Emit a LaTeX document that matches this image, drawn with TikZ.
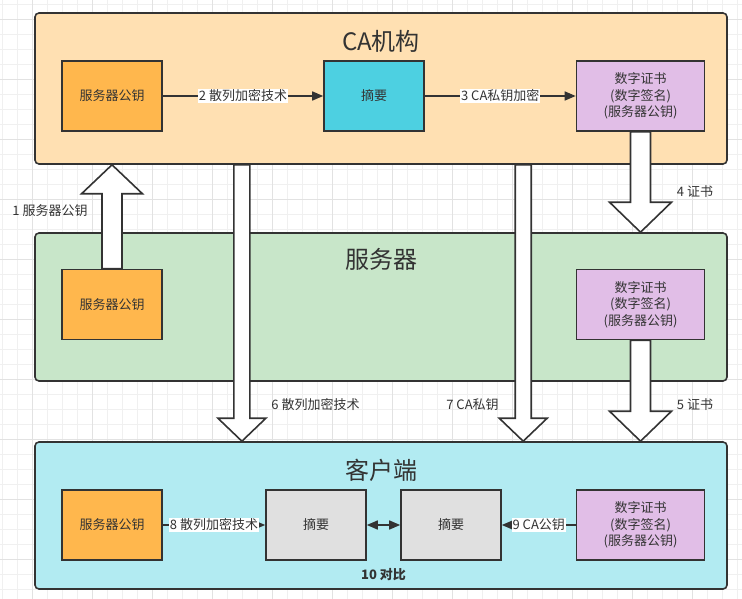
\documentclass[tikz,border=0pt]{standalone}
\usepackage{fontspec}
\setmainfont{Noto Sans CJK SC}
\usetikzlibrary{arrows.meta,calc}
\definecolor{cafill}{HTML}{FFE0B2}
\definecolor{serverfill}{HTML}{C8E6C9}
\definecolor{clientfill}{HTML}{B2EBF2}
\definecolor{keyorange}{HTML}{FFB74D}
\definecolor{digestcyan}{HTML}{4DD0E1}
\definecolor{certpurple}{HTML}{E1BEE7}
\definecolor{digestgray}{HTML}{E0E0E0}
\definecolor{linedark}{HTML}{333333}
\definecolor{gridminor}{HTML}{F0F0F0}
\definecolor{gridmajor}{HTML}{E2E2E2}
\tikzset{
  panel/.style={rectangle, rounded corners=4pt, draw=linedark, line width=1.6pt},
  paneltitle/.style={font=\fontsize{24}{28}\selectfont, text=linedark},
  keybox/.style={
    rectangle, draw=linedark, line width=1.6pt,
    minimum width=100pt, minimum height=70pt, align=center,
    font=\fontsize{13}{16.5}\selectfont, text=linedark
  },
  certbox/.style={keybox, fill=certpurple, minimum width=128pt},
  flow/.style={-{Triangle[length=11pt,width=9pt]}, line width=1.5pt, draw=linedark},
  flowlabel/.style={fill=white, inner sep=1pt, font=\fontsize{13}{15}\selectfont, text=linedark},
  note/.style={font=\fontsize{13}{15}\selectfont, text=linedark},
  fat/.style={draw=linedark, fill=white, line width=1.6pt, line join=miter}
}
% #1 from, #2 to, #3 half shaft, #4 half head, #5 head length
\newcommand{\fatarrow}[5]{
  \coordinate (fa-base) at ($(#2)!#5!(#1)$);
  \draw[fat] ($(#1)!#3!90:(#2)$) -- ($(fa-base)!#3!90:(#2)$)
    -- ($(fa-base)!#4!90:(#2)$) -- (#2)
    -- ($(fa-base)!#4!-90:(#2)$) -- ($(fa-base)!#3!-90:(#2)$)
    -- ($(#1)!#3!-90:(#2)$) -- cycle;
}
\newcommand{\certtext}{数字证书\\(数字签名)\\(服务器公钥)}

\begin{document}
\begin{tikzpicture}[x=1pt, y=-1pt]
\useasboundingbox (0,0) rectangle (742,599);
\fill[white] (0,0) rectangle (742,599);
\foreach \gx in {2.3,17.3,...,742} \draw[gridminor, line width=0.8pt] (\gx,0) -- (\gx,599);
\foreach \gy in {4.3,19.3,...,599} \draw[gridminor, line width=0.8pt] (0,\gy) -- (742,\gy);
\foreach \gx in {32.3,92.3,...,742} \draw[gridmajor, line width=0.8pt] (\gx,0) -- (\gx,599);
\foreach \gy in {19.3,79.3,...,599} \draw[gridmajor, line width=0.8pt] (0,\gy) -- (742,\gy);

\node[panel, fill=cafill, minimum width=692pt, minimum height=151pt] (ca) at (381,88.5) {};
\node[panel, fill=serverfill, minimum width=692pt, minimum height=148pt] (server) at (381,307) {};
\node[panel, fill=clientfill, minimum width=692pt, minimum height=147pt] (client) at (381,515.5) {};
\node[paneltitle] (catitle) at ($(ca.north)+(0,29)$) {CA机构};
\node[paneltitle] (servertitle) at ($(server.north)+(0,27)$) {服务器};
\node[paneltitle] (clienttitle) at ($(client.north)+(0,29)$) {客户端};

\node[keybox, fill=keyorange] (keyA) at (112,96) {服务器公钥};
\node[keybox, fill=digestcyan] (digestA) at (374,96) {摘要};
\node[certbox] (certA) at (640.5,96) {\certtext};
\draw[flow] (keyA) -- node[flowlabel] {2 散列加密技术} (digestA);
\draw[flow] (digestA) -- node[flowlabel] {3 CA私钥加密} (certA);

\node[keybox, fill=keyorange] (keyB) at (112,304.5) {服务器公钥};
\node[certbox] (certB) at (640.5,304.5) {\certtext};

\node[keybox, fill=keyorange] (keyC) at (112,525) {服务器公钥};
\node[keybox, fill=digestgray] (digestB) at (316,525) {摘要};
\node[keybox, fill=digestgray] (digestC) at (451,525) {摘要};
\node[certbox] (certC) at (640.5,525) {\certtext};
\draw[flow] (keyC) -- node[flowlabel] {8 散列加密技术} (digestB);
\draw[flow, {Triangle[length=11pt,width=9pt]}-{Triangle[length=11pt,width=9pt]}] (digestB) -- (digestC);
\draw[flow] (certC) -- node[flowlabel] {9 CA公钥} (digestC);
\node[note, font=\fontsize{13}{15}\selectfont\bfseries] (compare) at (383.5,575) {10 对比};

\coordinate (upend) at (keyB.north |- ca.south);
\coordinate (cert4end) at (certA.south |- server.north);
\coordinate (cert5end) at (certB.south |- client.north);
\path (ca.south west) ++(207.7,0) coordinate (hashtop);
\path (ca.south west) ++(489,0) coordinate (privtop);
\coordinate (hashend) at (hashtop |- client.north);
\coordinate (privend) at (privtop |- client.north);
\fatarrow{keyB.north}{upend}{10pt}{30.5pt}{29pt}
\fatarrow{certA.south}{cert4end}{10pt}{31pt}{30pt}
\fatarrow{certB.south}{cert5end}{10pt}{31pt}{30pt}
\fatarrow{hashtop}{hashend}{8pt}{24pt}{23pt}
\fatarrow{privtop}{privend}{8pt}{24pt}{23pt}

\node[note] (lab1) at (50,211) {1 服务器公钥};
\node[note] (lab4) at (695,192) {4 证书};
\node[note] (lab5) at (695,405) {5 证书};
\node[note] (lab6) at (315.5,405) {6 散列加密技术};
\node[note] (lab7) at (472.5,405) {7 CA私钥};
\end{tikzpicture}
\end{document}
